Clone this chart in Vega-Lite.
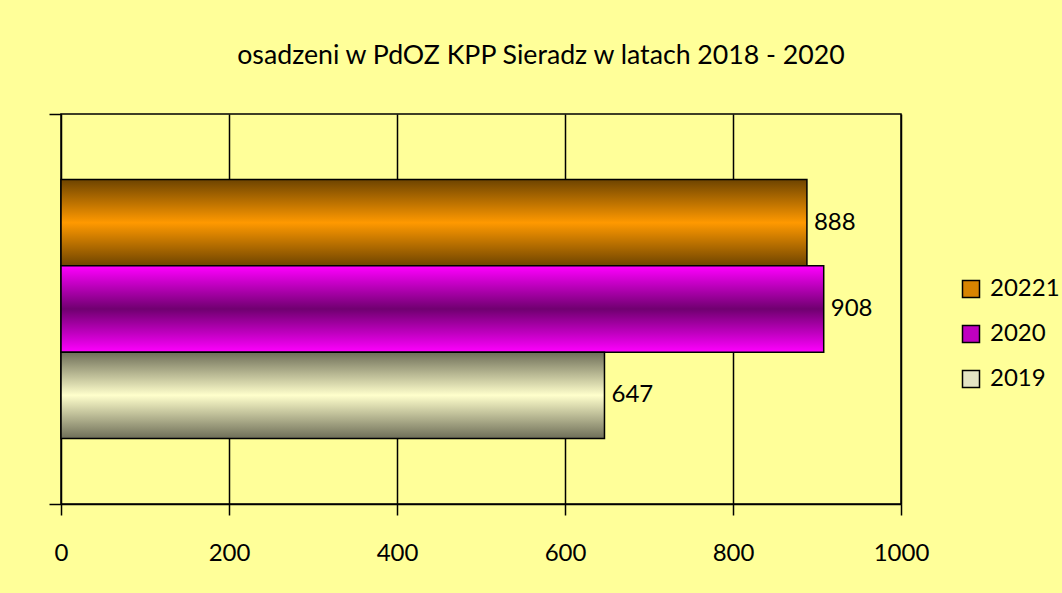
{
  "$schema": "https://vega.github.io/schema/vega-lite/v6.json",
  "width": 840,
  "height": 390,
  "autosize": "none",
  "padding": {"left": 61, "top": 114, "right": 161, "bottom": 89},
  "background": "#FFFF99",
  "title": {
    "text": "osadzeni w PdOZ KPP Sieradz w latach 2018 - 2020",
    "font": "Lato",
    "fontSize": 26.7,
    "fontWeight": "normal",
    "color": "black",
    "anchor": "middle",
    "offset": 44,
    "dx": 60
  },
  "config": {
    "view": {"stroke": "black", "strokeWidth": 1.5},
    "font": "Lato"
  },
  "data": {
    "values": [
      {"cat": "osadzeni", "series": "20221", "value": 888},
      {"cat": "osadzeni", "series": "2020", "value": 908},
      {"cat": "osadzeni", "series": "2019", "value": 647}
    ]
  },
  "encoding": {
    "y": {
      "field": "cat",
      "type": "nominal",
      "scale": {"paddingInner": 0, "paddingOuter": 0},
      "axis": {
        "title": null,
        "labels": false,
        "domain": false,
        "grid": false,
        "tickBand": "extent",
        "tickSize": 12,
        "tickColor": "black",
        "tickWidth": 1.5
      }
    },
    "yOffset": {
      "field": "series",
      "type": "nominal",
      "sort": ["20221", "2020", "2019"],
      "scale": {"domain": ["20221", "2020", "2019"], "paddingInner": 0, "paddingOuter": 0.76}
    },
    "x": {
      "field": "value",
      "type": "quantitative",
      "scale": {"domain": [0, 1000], "nice": false},
      "axis": {
        "title": null,
        "values": [0, 200, 400, 600, 800, 1000],
        "format": "d",
        "grid": true,
        "gridColor": "black",
        "gridWidth": 1.5,
        "gridOpacity": 1,
        "domainColor": "black",
        "domainWidth": 1.5,
        "tickColor": "black",
        "tickWidth": 1.5,
        "tickSize": 11,
        "labelFont": "Lato",
        "labelFontSize": 24,
        "labelColor": "black",
        "labelPadding": 26,
        "labelFlush": false
      }
    }
  },
  "layer": [
    {
      "mark": {"type": "bar", "opacity": 0},
      "encoding": {
        "color": {
          "field": "series",
          "type": "nominal",
          "scale": {
            "domain": ["20221", "2020", "2019"],
            "range": ["#D88400", "#C000C0", "#E4E4C4"]
          },
          "legend": {
            "title": null,
            "orient": "none",
            "legendX": 898,
            "legendY": 163,
            "symbolType": "square",
            "symbolSize": 289,
            "symbolOpacity": 1,
            "symbolStrokeColor": "black",
            "symbolStrokeWidth": 1.5,
            "labelFont": "Lato",
            "labelFontSize": 24,
            "labelColor": "black",
            "labelOffset": 7,
            "rowPadding": 21,
            "encoding": {
              "symbols": {
                "opacity": {"value": 1},
                "stroke": {"value": "black"},
                "strokeWidth": {"value": 1.5}
              }
            }
          }
        }
      }
    },
    {
      "transform": [{"filter": "datum.series === '20221'"}],
      "mark": {
        "type": "bar", "stroke": "black", "strokeWidth": 1.5,
        "color": {"gradient": "linear", "x1": 0, "y1": 0, "x2": 0, "y2": 1, "stops": [
          {"offset": 0, "color": "#6E4400"},
          {"offset": 0.5, "color": "#FF9900"},
          {"offset": 1, "color": "#6E4400"}]}
      }
    },
    {
      "transform": [{"filter": "datum.series === '2020'"}],
      "mark": {
        "type": "bar", "stroke": "black", "strokeWidth": 1.5,
        "color": {"gradient": "linear", "x1": 0, "y1": 0, "x2": 0, "y2": 1, "stops": [
          {"offset": 0, "color": "#FF00FF"},
          {"offset": 0.5, "color": "#700070"},
          {"offset": 1, "color": "#FF00FF"}]}
      }
    },
    {
      "transform": [{"filter": "datum.series === '2019'"}],
      "mark": {
        "type": "bar", "stroke": "black", "strokeWidth": 1.5,
        "color": {"gradient": "linear", "x1": 0, "y1": 0, "x2": 0, "y2": 1, "stops": [
          {"offset": 0, "color": "#6E6E58"},
          {"offset": 0.5, "color": "#FFFFCC"},
          {"offset": 1, "color": "#6E6E58"}]}
      }
    },
    {
      "mark": {"type": "text", "align": "left", "baseline": "middle", "dx": 7, "font": "Lato", "fontSize": 24, "color": "black"},
      "encoding": {"text": {"field": "value", "type": "quantitative"}}
    }
  ]
}
